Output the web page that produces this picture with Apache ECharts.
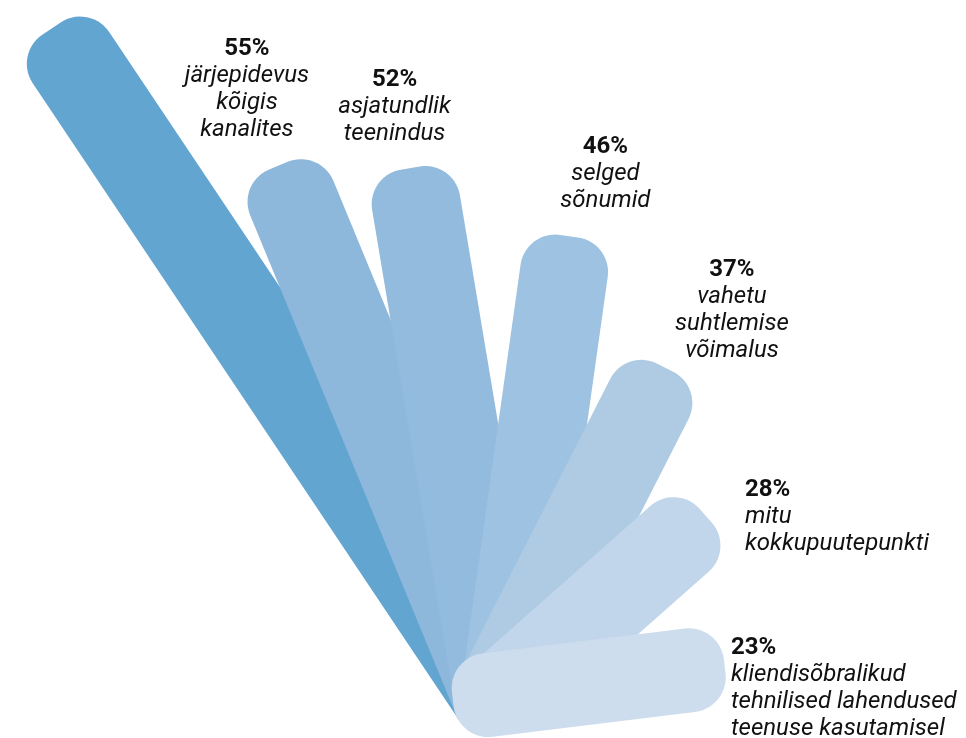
<!DOCTYPE html>
<html>
<head>
<meta charset="utf-8">
<script src="https://cdn.jsdelivr.net/npm/echarts@6/dist/echarts.min.js"></script>
<style>
  html, body { margin: 0; padding: 0; background: #ffffff; }
  #chart { width: 966px; height: 738px; }
</style>
</head>
<body>
<div id="chart"></div>
<script>
// ---- data ----
const categories = [
  '',
  'järjepidevus\nkõigis\nkanalites',
  'asjatundlik\nteenindus',
  'selged\nsõnumid',
  'vahetu\nsuhtlemise\nvõimalus',
  'mitu\nkokkupuutepunkti',
  'kliendisõbralikud\ntehnilised lahendused\nteenuse kasutamisel'
];
const values = [78, 55, 52, 46, 37, 28, 23];

// ---- layout / style ----
const colors = ['#63a5d1', '#8db8db', '#93bbde', '#9ec2e1', '#afcbe4', '#c2d6eb', '#cddded'];
const PIVOT = [457, 717];
const ANGLES = [-33.8, -22.4, -9.5, 8, 27, 48.5, 83];
const LEFT_OFFSET = [0, 0, 0, 0, 17, 30, 60];
const BAR_W = [92, 90, 89, 88, 88, 88, 84];
const START = [-2, -2, -2, 8, 40, 50, -2];
const BASE = 52;
const TOP_R = 35;
const BOTTOM_R = [0, 0, 0, 0, 0, 0, 35];
const LABEL_OFF = [null, [-31.5, -130], [-15.7, -101.9], [36.4, -103.1], [66.7, -111.3], [39.3, -39.2], [6.3, -31.6]];
const LABEL_ALIGN = ['center', 'center', 'center', 'center', 'center', 'left', 'left'];

function roundedBar(phiDeg, uL, uR, t0, L, rT, rB) {
  const phi = phiDeg * Math.PI / 180;
  const c = Math.cos(phi), s = Math.sin(phi);
  const toScreen = (u, t) => [PIVOT[0] + u * c + t * s, PIVOT[1] + u * s - t * c];
  const pts = [];
  const arc = (cu, ct, r, a0, a1) => {
    const n = 14;
    if (r <= 0) { pts.push(toScreen(cu, ct)); return; }
    for (let k = 0; k <= n; k++) {
      const a = (a0 + (a1 - a0) * k / n) * Math.PI / 180;
      pts.push(toScreen(cu + r * Math.cos(a), ct + r * Math.sin(a)));
    }
  };
  arc(uL + rT, L - rT, rT, 180, 90);
  arc(uR - rT, L - rT, rT, 90, 0);
  arc(uR - rB, t0 + rB, rB, 0, -90);
  arc(uL + rB, t0 + rB, rB, -90, -180);
  const half = (uL + uR) / 2;
  return { pts, tip: toScreen(half, L) };
}

const chart = echarts.init(document.getElementById('chart'), null, { renderer: 'canvas' });

chart.setOption({
  animation: false,
  grid: { left: 0, right: 10, top: 0, bottom: 0 },
  xAxis: { type: 'value', min: 0, max: 100, show: false },
  yAxis: { type: 'category', data: categories, show: false },
  series: [{
    type: 'custom',
    data: values.map((v, i) => [v, i]),
    renderItem: function (params, api) {
      const i = params.dataIndex;
      const v = api.value(0);
      const L = api.size([v, 0])[0] + BASE;
      const uL = -LEFT_OFFSET[i];
      const uR = BAR_W[i] - LEFT_OFFSET[i];
      const bar = roundedBar(ANGLES[i], uL, uR, START[i], L, TOP_R, BOTTOM_R[i]);
      const children = [{
        type: 'polygon',
        shape: { points: bar.pts },
        style: { fill: colors[i] }
      }];
      if (LABEL_OFF[i] && categories[i]) {
        const lines = categories[i].split('\n').map(l => '{i|' + l + '}').join('\n');
        children.push({
          type: 'text',
          x: bar.tip[0] + LABEL_OFF[i][0],
          y: bar.tip[1] + LABEL_OFF[i][1],
          style: {
            text: '{b|' + v + '%}\n' + lines,
            align: LABEL_ALIGN[i],
            verticalAlign: 'top',
            rich: {
              b: { fontFamily: 'Roboto', fontWeight: 'bold', fontSize: 24, lineHeight: 27, fill: '#111111', align: LABEL_ALIGN[i] },
              i: { fontFamily: 'Roboto', fontStyle: 'italic', fontSize: 24, lineHeight: 27, fill: '#111111', align: LABEL_ALIGN[i] }
            }
          }
        });
      }
      return { type: 'group', children: children };
    }
  }]
});
</script>
</body>
</html>
